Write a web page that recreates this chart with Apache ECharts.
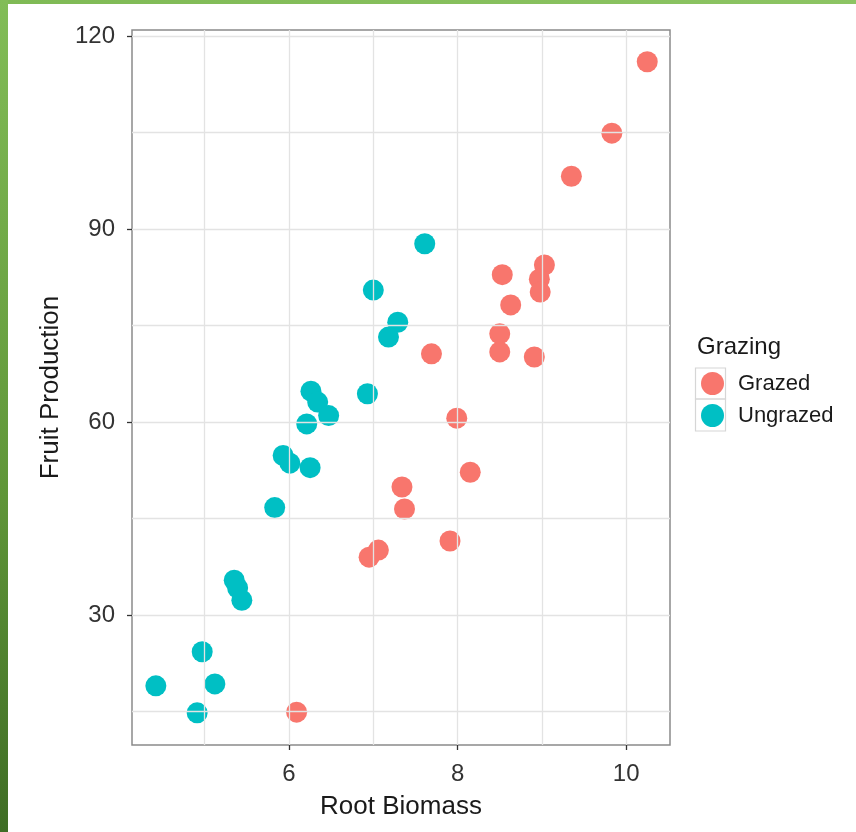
<!DOCTYPE html>
<html>
<head>
<meta charset="utf-8">
<script src="https://cdn.jsdelivr.net/npm/echarts@6/dist/echarts.min.js"></script>
<style>
  html, body { margin: 0; padding: 0; background: #ffffff; }
  #wrap { position: relative; width: 856px; height: 832px; overflow: hidden; }
  #chart { position: absolute; left: 0; top: 0; width: 856px; height: 832px; }
  #bandTop { position: absolute; left: 0; top: 0; width: 856px; height: 4px;
             background: linear-gradient(to right, #7fba55, #8cc463); }
  #bandLeft { position: absolute; left: 0; top: 0; width: 8px; height: 832px;
              background: linear-gradient(to bottom, #82bd57, #5f9538 60%, #3f6d25); }
</style>
</head>
<body>
<div id="wrap">
  <div id="chart"></div>
  <div id="bandTop"></div>
  <div id="bandLeft"></div>
</div>
<script>
// Root biomass vs fruit production, by grazing treatment
const grazedRoot   = [10.25, 9.83, 9.35, 9.03, 8.97, 8.98, 8.53, 8.63, 8.50, 8.50, 8.91, 7.69, 7.99, 8.15, 7.34, 7.37, 7.91, 7.06, 6.95, 6.09];
const grazedFruit  = [116.0, 104.9, 98.2, 84.4, 82.2, 80.2, 82.9, 78.2, 73.7, 70.9, 70.1, 70.6, 60.6, 52.2, 49.9, 46.5, 41.5, 40.1, 39.0, 14.9];
const ungrazedRoot  = [7.61, 7.00, 7.29, 7.18, 6.93, 6.26, 6.34, 6.47, 6.21, 5.93, 6.01, 6.25, 5.83, 5.35, 5.39, 5.44, 4.97, 5.12, 4.42, 4.91];
const ungrazedFruit = [87.7, 80.5, 75.5, 73.2, 64.4, 64.8, 63.1, 61.0, 59.7, 54.8, 53.6, 52.9, 46.7, 35.4, 34.2, 32.3, 24.3, 19.3, 19.0, 14.8];

const groups = ['Grazed', 'Ungrazed'];
const xTicks = [6, 8, 10];
const yTicks = [30, 60, 90, 120];
const xGrid = [5, 6, 7, 8, 9, 10];
const yGrid = [15, 30, 45, 60, 75, 90, 105, 120];

const colors = ['#F8766D', '#00BFC4'];
const font = 'Liberation Sans, Arial, Helvetica, sans-serif';

function pairs(xs, ys) { return xs.map((x, i) => [x, ys[i]]); }

const chart = echarts.init(document.getElementById('chart'), null, { renderer: 'canvas' });

chart.setOption({
  animation: false,
  backgroundColor: '#ffffff',
  textStyle: { fontFamily: font },
  title: {
    text: 'Grazing',
    left: 692, top: 330,
    textStyle: { fontFamily: font, fontSize: 24, fontWeight: 'normal', color: '#1a1a1a' }
  },
  legend: {
    data: groups,
    orient: 'vertical',
    left: 696, top: 367,
    icon: 'circle',
    itemWidth: 23, itemHeight: 23,
    itemGap: 9,
    textStyle: { fontFamily: font, fontSize: 22, color: '#1a1a1a', padding: [0, 0, 0, 9] }
  },
  graphic: [
    { type: 'rect', shape: { x: 695.5, y: 368, width: 30, height: 31 }, style: { fill: 'none', stroke: '#d6d6d6', lineWidth: 1.2 }, silent: true },
    { type: 'rect', shape: { x: 695.5, y: 399, width: 30, height: 32 }, style: { fill: 'none', stroke: '#d6d6d6', lineWidth: 1.2 }, silent: true }
  ],
  grid: {
    left: 132, right: 186, top: 30, bottom: 87,
    show: true, borderColor: '#8a8a8a', borderWidth: 1.5, backgroundColor: 'transparent'
  },
  xAxis: {
    type: 'value',
    min: 4.137, max: 10.52,
    name: 'Root Biomass',
    nameLocation: 'middle',
    nameGap: 49,
    nameTextStyle: { fontFamily: font, fontSize: 26, color: '#1a1a1a' },
    axisLine: { show: false },
    splitLine: { show: false },
    axisTick: { show: true, length: 5, lineStyle: { color: '#333', width: 1.3 }, customValues: xTicks },
    axisLabel: { fontFamily: font, fontSize: 24, color: '#333', margin: 17, customValues: xTicks }
  },
  yAxis: {
    type: 'value',
    min: 9.8, max: 120.93,
    name: 'Fruit Production',
    nameLocation: 'middle',
    nameGap: 62,
    nameTextStyle: { fontFamily: font, fontSize: 26, color: '#1a1a1a' },
    axisLine: { show: false },
    splitLine: { show: false },
    axisTick: { show: true, length: 5, lineStyle: { color: '#333', width: 1.3 }, customValues: yTicks },
    axisLabel: { fontFamily: font, fontSize: 24, color: '#333', margin: 17, customValues: yTicks }
  },
  series: [
    {
      name: 'gridlines',
      type: 'scatter',
      data: [],
      z: 1,
      silent: true,
      markLine: {
        silent: true,
        symbol: ['none', 'none'],
        label: { show: false },
        lineStyle: { color: '#e3e3e3', width: 1.3, type: 'solid' },
        data: xGrid.map(v => ({ xAxis: v })).concat(yGrid.map(v => ({ yAxis: v })))
      }
    },
    {
      name: groups[0],
      type: 'scatter',
      z: 3,
      symbolSize: 21,
      itemStyle: { color: colors[0], opacity: 1 },
      data: pairs(grazedRoot, grazedFruit)
    },
    {
      name: groups[1],
      type: 'scatter',
      z: 3,
      symbolSize: 21,
      itemStyle: { color: colors[1], opacity: 1 },
      data: pairs(ungrazedRoot, ungrazedFruit)
    }
  ]
});
</script>
</body>
</html>
